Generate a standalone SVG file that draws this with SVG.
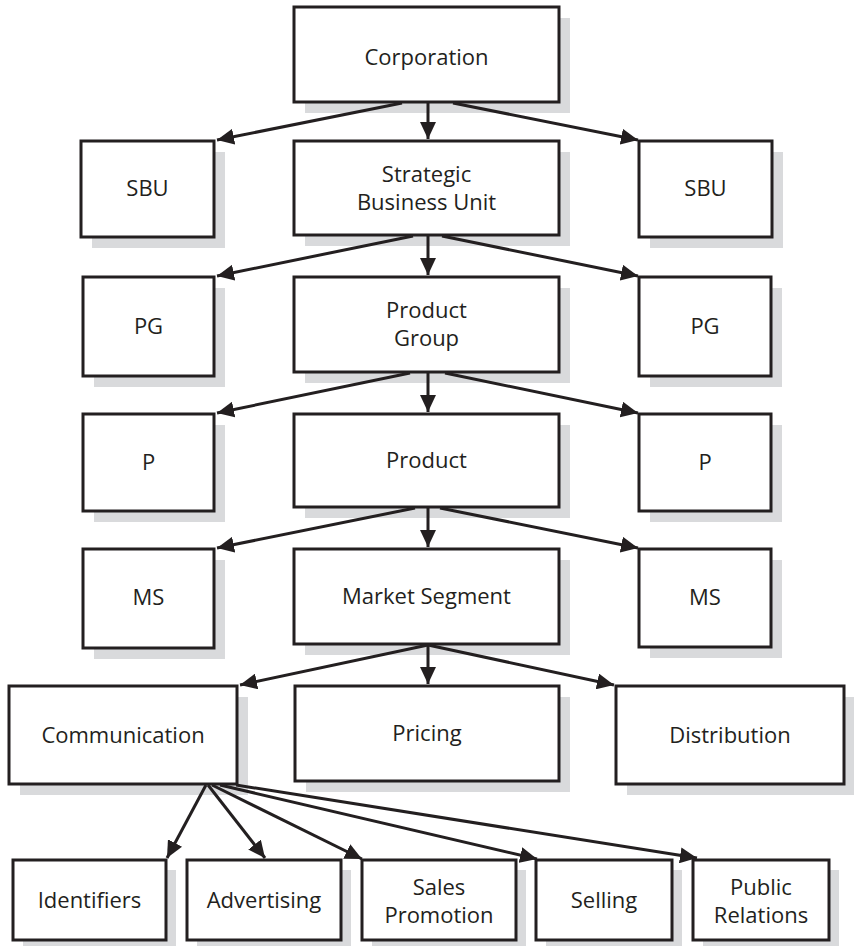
<svg xmlns="http://www.w3.org/2000/svg" width="854" height="946" viewBox="0 0 854 946">
  <style>
    .shadow { fill: #d9dadc; stroke: none; }
    .box { fill: #ffffff; stroke: #231f20; stroke-width: 3; }
    .label { font-family: "Open Sans", "Noto Sans", "Liberation Sans", sans-serif; font-size: 22px; fill: #231f20; text-anchor: middle; }
    .link { stroke: #231f20; stroke-width: 3; fill: none; marker-end: url(#arrow); }
  </style>
  <defs>
    <marker id="arrow" markerUnits="userSpaceOnUse" markerWidth="18" markerHeight="16" refX="17" refY="8" orient="auto">
      <path d="M0,0 L17,8 L0,16 z" fill="#231f20"/>
    </marker>
  </defs>

  <rect width="854" height="946" fill="#ffffff"/>

  <!-- level 1 -->
  <g id="corporation">
    <rect class="shadow" x="305" y="18" width="265" height="95"/>
    <rect class="box" x="294" y="7" width="265" height="95"/>
    <text class="label" x="426.5" y="65">Corporation</text>
  </g>

  <!-- level 2 -->
  <g id="sbu-left">
    <rect class="shadow" x="92" y="152" width="133" height="96"/>
    <rect class="box" x="81" y="141" width="133" height="96"/>
    <text class="label" x="147.5" y="196">SBU</text>
  </g>
  <g id="strategic-business-unit">
    <rect class="shadow" x="305" y="152" width="265" height="94"/>
    <rect class="box" x="294" y="141" width="265" height="94"/>
    <text class="label" x="426.5" y="182">Strategic</text>
    <text class="label" x="426.5" y="210">Business Unit</text>
  </g>
  <g id="sbu-right">
    <rect class="shadow" x="650" y="152" width="133" height="96"/>
    <rect class="box" x="639" y="141" width="133" height="96"/>
    <text class="label" x="705.5" y="196">SBU</text>
  </g>

  <!-- level 3 -->
  <g id="pg-left">
    <rect class="shadow" x="94" y="288" width="131" height="99"/>
    <rect class="box" x="83" y="277" width="131" height="99"/>
    <text class="label" x="148.5" y="334">PG</text>
  </g>
  <g id="product-group">
    <rect class="shadow" x="305" y="288" width="265" height="95"/>
    <rect class="box" x="294" y="277" width="265" height="95"/>
    <text class="label" x="426.5" y="318">Product</text>
    <text class="label" x="426.5" y="346">Group</text>
  </g>
  <g id="pg-right">
    <rect class="shadow" x="650" y="288" width="132" height="99"/>
    <rect class="box" x="639" y="277" width="132" height="99"/>
    <text class="label" x="705" y="334">PG</text>
  </g>

  <!-- level 4 -->
  <g id="p-left">
    <rect class="shadow" x="94" y="425" width="131" height="97"/>
    <rect class="box" x="83" y="414" width="131" height="97"/>
    <text class="label" x="148.5" y="470">P</text>
  </g>
  <g id="product">
    <rect class="shadow" x="305" y="425" width="265" height="93"/>
    <rect class="box" x="294" y="414" width="265" height="93"/>
    <text class="label" x="426.5" y="468">Product</text>
  </g>
  <g id="p-right">
    <rect class="shadow" x="650" y="425" width="132" height="97"/>
    <rect class="box" x="639" y="414" width="132" height="97"/>
    <text class="label" x="705" y="470">P</text>
  </g>

  <!-- level 5 -->
  <g id="ms-left">
    <rect class="shadow" x="94" y="560" width="131" height="99"/>
    <rect class="box" x="83" y="549" width="131" height="99"/>
    <text class="label" x="148.5" y="605">MS</text>
  </g>
  <g id="market-segment">
    <rect class="shadow" x="305" y="560" width="265" height="95"/>
    <rect class="box" x="294" y="549" width="265" height="95"/>
    <text class="label" x="426.5" y="604">Market Segment</text>
  </g>
  <g id="ms-right">
    <rect class="shadow" x="650" y="560" width="132" height="98"/>
    <rect class="box" x="639" y="549" width="132" height="98"/>
    <text class="label" x="705" y="605">MS</text>
  </g>

  <!-- level 6 -->
  <g id="communication">
    <rect class="shadow" x="20" y="697" width="228" height="98"/>
    <rect class="box" x="9" y="686" width="228" height="98"/>
    <text class="label" x="123" y="743">Communication</text>
  </g>
  <g id="pricing">
    <rect class="shadow" x="306" y="697" width="264" height="95"/>
    <rect class="box" x="295" y="686" width="264" height="95"/>
    <text class="label" x="427" y="741">Pricing</text>
  </g>
  <g id="distribution">
    <rect class="shadow" x="627" y="697" width="228" height="98"/>
    <rect class="box" x="616" y="686" width="228" height="98"/>
    <text class="label" x="730" y="743">Distribution</text>
  </g>

  <!-- level 7 -->
  <g id="identifiers">
    <rect class="shadow" x="23" y="870" width="153" height="80"/>
    <rect class="box" x="13" y="860" width="153" height="80"/>
    <text class="label" x="89.5" y="908">Identifiers</text>
  </g>
  <g id="advertising">
    <rect class="shadow" x="197" y="870" width="154" height="80"/>
    <rect class="box" x="187" y="860" width="154" height="80"/>
    <text class="label" x="264" y="908">Advertising</text>
  </g>
  <g id="sales-promotion">
    <rect class="shadow" x="372" y="870" width="154" height="80"/>
    <rect class="box" x="362" y="860" width="154" height="80"/>
    <text class="label" x="439" y="895">Sales</text>
    <text class="label" x="439" y="923">Promotion</text>
  </g>
  <g id="selling">
    <rect class="shadow" x="546" y="870" width="136" height="80"/>
    <rect class="box" x="536" y="860" width="136" height="80"/>
    <text class="label" x="604" y="908">Selling</text>
  </g>
  <g id="public-relations">
    <rect class="shadow" x="703" y="870" width="136" height="80"/>
    <rect class="box" x="693" y="860" width="136" height="80"/>
    <text class="label" x="761" y="895">Public</text>
    <text class="label" x="761" y="923">Relations</text>
  </g>

  <!-- connectors, drawn over the drop shadows -->
  <g id="connectors">
    <line class="link" x1="402" y1="103" x2="217" y2="140"/>
    <line class="link" x1="428" y1="103" x2="428" y2="139"/>
    <line class="link" x1="453" y1="103" x2="638" y2="140"/>

    <line class="link" x1="413" y1="236" x2="217" y2="276"/>
    <line class="link" x1="428" y1="236" x2="428" y2="275"/>
    <line class="link" x1="442" y1="236" x2="638" y2="276"/>

    <line class="link" x1="410" y1="373" x2="217" y2="413"/>
    <line class="link" x1="428" y1="373" x2="428" y2="412"/>
    <line class="link" x1="445" y1="373" x2="638" y2="413"/>

    <line class="link" x1="415" y1="508" x2="217" y2="548"/>
    <line class="link" x1="428" y1="508" x2="428" y2="547"/>
    <line class="link" x1="440" y1="508" x2="638" y2="548"/>

    <line class="link" x1="428" y1="645" x2="240" y2="685"/>
    <line class="link" x1="428" y1="645" x2="428" y2="684"/>
    <line class="link" x1="428" y1="645" x2="614" y2="685"/>

    <line class="link" x1="206" y1="785" x2="167" y2="858"/>
    <line class="link" x1="208" y1="785" x2="265" y2="858"/>
    <line class="link" x1="212" y1="785" x2="362" y2="859"/>
    <line class="link" x1="220" y1="785" x2="537" y2="859"/>
    <line class="link" x1="236" y1="785" x2="697" y2="858"/>
  </g>
</svg>
